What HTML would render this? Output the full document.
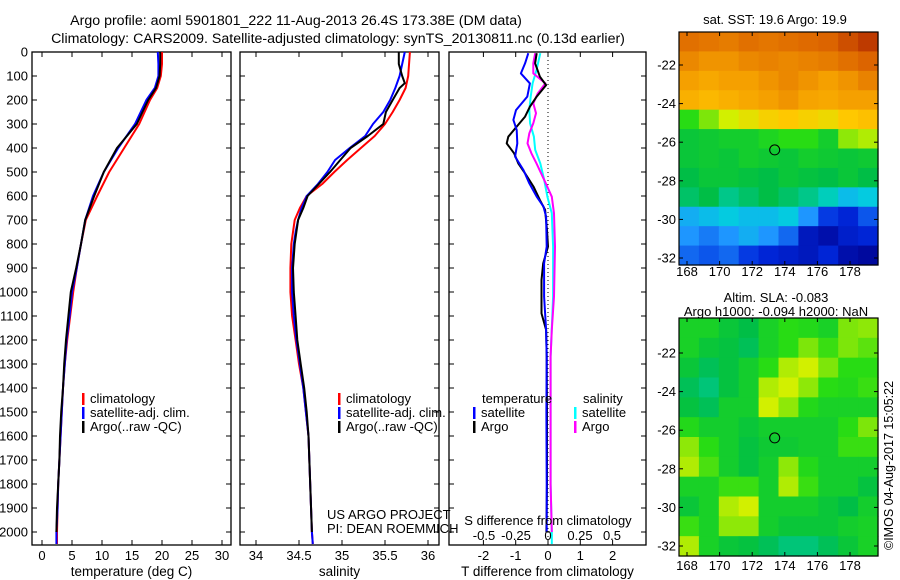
<!DOCTYPE html>
<html><head><meta charset="utf-8"><style>
html,body{margin:0;padding:0;background:#fff;}
svg{display:block;font-family:"Liberation Sans",sans-serif;}
</style></head><body>
<svg id="fig" width="900" height="580" xmlns="http://www.w3.org/2000/svg">
<g font-size="14.2" fill="#000">
<text x="296" y="25" text-anchor="middle">Argo profile: aoml 5901801_222 11-Aug-2013 26.4S 173.38E (DM data)</text>
<text x="338" y="43" text-anchor="middle">Climatology: CARS2009. Satellite-adjusted climatology: synTS_20130811.nc (0.13d earlier)</text>
</g>
<g id="panels"></g>
<g id="maps"></g>
<text transform="translate(893,550) rotate(-90)" font-size="12.5">©IMOS 04-Aug-2017 15:05:22</text>
</svg>
<script>
// ---------- DATA ----------
const depthT = [0,50,100,150,200,300,400,500,600,700,800,900,1000,1100,1200,1300,1400,1500,1600,1700,1800,1900,2000,2050];
const tempClim = [20.0,20.0,19.8,19.2,18.0,16.2,13.7,11.2,9.2,7.3,6.5,5.8,5.2,4.7,4.2,3.8,3.5,3.3,3.1,2.9,2.7,2.6,2.5,2.5];
const tempSat  = [19.3,19.4,19.4,18.8,17.4,15.5,12.7,10.3,8.5,7.2,6.5,5.8,5.0,4.6,4.1,3.8,3.5,3.3,3.1,2.9,2.7,2.6,2.4,2.4];
const depthArgoT = [0,50,100,150,200,300,400,500,600,700,800,900,1000,1100,1200,1300,1400,1500,1600,1700,1800,1900,2000];
const tempArgo = [19.7,19.7,19.6,19.0,17.7,15.8,12.5,10.3,8.7,7.2,6.5,5.7,4.8,4.4,4.0,3.7,3.5,3.2,3.0,2.9,2.7,2.5,2.4];

const depthS = [0,100,150,200,250,300,350,400,450,500,550,600,650,700,750,800,900,1000,1100,1200,1300,1400,1500,1600,1800,2000,2050];
const salClim = [35.79,35.77,35.74,35.67,35.59,35.50,35.38,35.22,35.06,34.91,34.77,34.59,34.51,34.45,34.43,34.41,34.40,34.40,34.42,34.46,34.50,34.55,34.58,34.61,34.63,34.65,34.66];
const salSat  = [35.73,35.67,35.62,35.56,35.48,35.36,35.27,35.09,34.92,34.83,34.72,34.59,34.53,34.49,34.46,34.44,34.42,34.42,34.44,34.47,34.51,34.55,34.58,34.61,34.63,34.65,34.66];
const depthArgoS = [0,50,100,130,150,200,250,300,350,400,450,500,550,600,650,700,800,900,1000,1100,1200,1300,1400,1500,1600,1800,2000];
const salArgo = [35.66,35.66,35.70,35.73,35.67,35.59,35.51,35.48,35.30,35.10,34.98,34.86,34.73,34.60,34.55,34.49,34.45,34.43,34.44,34.46,34.48,34.52,34.56,34.59,34.61,34.63,34.65];

const depthDT = [5,47,89,131,186,242,283,325,381,436,492,547,603,644,686,811,881,1019,1158,1269,1500,1800,2000];
const dTSat = [-0.61,-0.71,-0.84,-0.56,-0.64,-0.99,-1.07,-0.97,-0.95,-1.02,-0.76,-0.58,-0.35,-0.14,-0.06,-0.04,-0.12,-0.12,-0.06,-0.04,-0.05,-0.04,-0.04];
const depthDTA = [5,47,103,138,186,228,269,311,353,381,422,464,506,561,617,658,742,811,881,950,1089,1158,1269,1500,1800,2000];
const dTArgo = [-0.35,-0.40,-0.25,-0.06,-0.35,-0.56,-0.71,-0.97,-1.23,-1.28,-1.05,-0.92,-0.71,-0.45,-0.25,-0.09,-0.03,0.0,-0.15,-0.20,-0.20,-0.06,-0.04,-0.03,-0.03,-0.05];
const depthDS = [5,75,131,186,242,297,353,408,464,533,603,672,811,1019,1269,1500,1800,2000,2050];
const dSSat = [-0.06,-0.09,-0.12,-0.135,-0.146,-0.14,-0.11,-0.10,-0.06,-0.03,-0.005,0.03,0.04,0.04,0.02,0.02,0.02,0.03,0.03];
const depthDSA = [5,47,89,131,172,214,255,297,339,381,422,464,533,603,672,811,1019,1158,1269,1500,1800,2000];
const dSArgo = [-0.10,-0.115,-0.115,-0.02,-0.08,-0.115,-0.094,-0.115,-0.146,-0.16,-0.13,-0.09,-0.03,0.03,0.047,0.055,0.047,0.03,0.02,0.02,0.02,0.03];

const depthTicks = [0,100,200,300,400,500,600,700,800,900,1000,1100,1200,1300,1400,1500,1600,1700,1800,1900,2000];
const tempTicks = [0,5,10,15,20,25,30];
const salTicks = [34,34.5,35,35.5,36];
const salTickLabels = ["34","34.5","35","35.5","36"];
const dTTicks = [-2,-1,0,1,2];
const dSTicks = [-0.5,-0.25,0,0.25,0.5];
const dSTickLabels = ["-0.5","-0.25","0","0.25","0.5"];

const latTicks = [-22,-24,-26,-28,-30,-32];
const lonTicks = [168,170,172,174,176,178];
const argoLon = 173.38, argoLat = -26.4;
// normalized SST field (0 cold .. 1 warm), rows north->south
const sstGrid = [
[.88,.87,.86,.88,.87,.88,.89,.9,.93,.96],
[.84,.82,.82,.84,.85,.84,.85,.86,.88,.9],
[.8,.78,.8,.8,.82,.84,.82,.8,.82,.85],
[.76,.74,.76,.78,.8,.82,.79,.78,.8,.8],
[.5,.55,.6,.64,.68,.7,.68,.66,.7,.72],
[.44,.45,.46,.46,.48,.5,.5,.46,.56,.58],
[.44,.45,.44,.46,.45,.44,.46,.45,.44,.45],
[.42,.44,.44,.43,.42,.44,.43,.42,.44,.42],
[.4,.42,.38,.4,.42,.4,.38,.35,.3,.32],
[.28,.3,.32,.3,.3,.32,.25,.15,.12,.18],
[.25,.22,.25,.28,.25,.2,.08,.05,.1,.12],
[.2,.18,.2,.15,.12,.1,.08,.12,.05,.03]];
const slaGrid = [
[.47,.47,.44,.42,.47,.5,.49,.47,.55,.56],
[.47,.44,.43,.41,.47,.5,.55,.51,.55,.53],
[.44,.41,.43,.46,.5,.58,.6,.55,.5,.5],
[.41,.39,.43,.46,.58,.6,.56,.5,.49,.51],
[.43,.41,.46,.46,.6,.56,.49,.47,.47,.47],
[.49,.46,.46,.44,.46,.46,.46,.46,.5,.55],
[.56,.5,.46,.43,.45,.45,.46,.46,.51,.51],
[.58,.52,.46,.43,.46,.56,.49,.46,.46,.46],
[.47,.47,.51,.51,.46,.58,.51,.46,.46,.43],
[.44,.47,.58,.6,.46,.46,.46,.44,.42,.46],
[.51,.47,.56,.56,.46,.44,.44,.44,.46,.47],
[.58,.47,.44,.43,.41,.39,.39,.41,.44,.47]];

// ---------- HELPERS ----------
const NS="http://www.w3.org/2000/svg";
function mk(tag,attrs,parent){const e=document.createElementNS(NS,tag);for(const k in attrs)e.setAttribute(k,attrs[k]);parent.appendChild(e);return e;}
const panelsG=document.getElementById('panels');
const Y0=52, YB=545, PXM=0.24, FS=13;
const yD = d => Y0 + d*PXM;

function drawPanel(name,x0,x1,xScale,ticks,labels,xlabel){
  const g=mk('g',{},panelsG);
  
  
  const r=mk('rect',{x:x0,y:Y0,width:x1-x0,height:YB-Y0,fill:'none',stroke:'#000','stroke-width':1.3},g);
  
  
  depthTicks.forEach(d=>{
    mk('line',{x1:x0,x2:x0+5,y1:yD(d),y2:yD(d),stroke:'#000'},g);
    mk('line',{x1:x1,x2:x1-5,y1:yD(d),y2:yD(d),stroke:'#000'},g);
  });
  if(ticks){
    ticks.forEach((v,i)=>{
      const x=xScale(v);
      mk('line',{x1:x,x2:x,y1:Y0,y2:Y0+5,stroke:'#000'},g);
      mk('line',{x1:x,x2:x,y1:YB,y2:YB-5,stroke:'#000'},g);
      const t=mk('text',{x:x,y:560,'text-anchor':'middle','font-size':FS},g);
      t.textContent=labels[i];
      
      
    });
  }
  const xl=mk('text',{x:(x0+x1)/2,y:576,'text-anchor':'middle','font-size':13.5},g);
  xl.textContent=xlabel;
  
  
  return g;
}
function line(g,xs,ds,xScale,color,name){
  const pts=xs.map((v,i)=>xScale(v).toFixed(1)+','+yD(ds[i]).toFixed(1)).join(' ');
  const p=mk('polyline',{points:pts,fill:'none',stroke:color,'stroke-width':2,'stroke-linejoin':'round'},g);
  
  
}
function legendEntry(g,x,y,color,label,name){
  mk('rect',{x:x,y:y-10,width:2.5,height:12,fill:color},g);
  const t=mk('text',{x:x+8,y:y,'font-size':FS},g);
  t.textContent=label;
  
  
}

// depth axis labels
depthTicks.forEach(d=>{
  const t=mk('text',{x:28,y:yD(d)+4.5,'text-anchor':'end','font-size':FS},panelsG);
  t.textContent=d;
  
  
});

// Panel 1 temperature
const xT = v => 42 + v*6;
const g1=drawPanel('temperature-panel',32,231,xT,tempTicks,tempTicks.map(String),'temperature (deg C)');
line(g1,tempClim,depthT,xT,'#f00','temp-climatology-line');
line(g1,tempSat,depthT,xT,'#00f','temp-satellite-line');
line(g1,tempArgo,depthArgoT,xT,'#000','temp-argo-line');
legendEntry(g1,82,403,'#f00','climatology','legend-climatology');
legendEntry(g1,82,417,'#00f','satellite-adj. clim.','legend-satellite');
legendEntry(g1,82,431,'#000','Argo(..raw -QC)','legend-argo');

// Panel 2 salinity
const xS = v => 256 + (v-34)*86;
const g2=drawPanel('salinity-panel',240,439,xS,salTicks,salTickLabels,'salinity');
line(g2,salClim,depthS,xS,'#f00','sal-climatology-line');
line(g2,salSat,depthS,xS,'#00f','sal-satellite-line');
line(g2,salArgo,depthArgoS,xS,'#000','sal-argo-line');
legendEntry(g2,338,403,'#f00','climatology','legend-climatology');
legendEntry(g2,338,417,'#00f','satellite-adj. clim.','legend-satellite');
legendEntry(g2,338,431,'#000','Argo(..raw -QC)','legend-argo');
[['US ARGO PROJECT',519],['PI: DEAN ROEMMICH',533]].forEach(([s,y])=>{
  const t=mk('text',{x:327,y:y,'font-size':FS},g2);t.textContent=s;
  
  
});

// Panel 3 differences
const xDT = v => 548 + v*32.3;
const xDS = v => 548 + v*128;
const g3=drawPanel('difference-panel',449,646,xDT,dTTicks,dTTicks.map(String),'T difference from climatology');
mk('line',{x1:548,x2:548,y1:Y0,y2:YB,stroke:'#000','stroke-dasharray':'1,3'},g3);
line(g3,dSSat,depthDS,xDS,'#0ff','s-diff-satellite-line');
line(g3,dSArgo,depthDSA,xDS,'#f0f','s-diff-argo-line');
line(g3,dTArgo,depthDTA,xDT,'#000','t-diff-argo-line');
line(g3,dTSat,depthDT,xDT,'#00f','t-diff-satellite-line');
dSTicks.forEach((v,i)=>{
  const t=mk('text',{x:xDS(v),y:540,'text-anchor':'middle','font-size':FS},g3);
  t.textContent=dSTickLabels[i];
  
  
});
{const t=mk('text',{x:548,y:525,'text-anchor':'middle','font-size':FS},g3);t.textContent='S difference from climatology';

}
{const t=mk('text',{x:482,y:403,'font-size':FS},g3);t.textContent='temperature';

}
{const t=mk('text',{x:583,y:403,'font-size':FS},g3);t.textContent='salinity';

}
legendEntry(g3,473,417,'#00f','satellite','legend-t-satellite');
legendEntry(g3,473,431,'#000','Argo','legend-t-argo');
legendEntry(g3,574,417,'#0ff','satellite','legend-s-satellite');
legendEntry(g3,574,431,'#f0f','Argo','legend-s-argo');

// ---------- MAPS ----------
const mapsG=document.getElementById('maps');
const stops=[[0,[0,0,140]],[0.13,[0,40,220]],[0.25,[30,150,255]],[0.33,[0,210,220]],[0.42,[0,190,70]],[0.5,[40,220,20]],[0.6,[210,240,0]],[0.7,[255,200,0]],[0.8,[245,160,0]],[0.9,[220,100,0]],[1,[170,30,0]]];
function cmap(v){
  for(let i=1;i<stops.length;i++){if(v<=stops[i][0]){const a=stops[i-1],b=stops[i];const f=(v-a[0])/(b[0]-a[0]);
    return 'rgb('+a[1].map((c,k)=>Math.round(c+(b[1][k]-c)*f)).join(',')+')';}}
  return 'rgb(170,30,0)';
}
function drawMap(name,grid,top,bottom,lat22Y,titleLines,lonLabelY){
  const L=679,R=878;
  const g=mk('g',{},mapsG);
  
  
  const rows=grid.length, cols=grid[0].length;
  const cw=(R-L)/cols, ch=(bottom-top)/rows;
  grid.forEach((row,r)=>row.forEach((v,c)=>{
    const cell=mk('rect',{x:L+c*cw,y:top+r*ch,width:cw+0.6,height:ch+0.6,fill:cmap(v)},g);
    
    
  }));
  mk('rect',{x:L,y:top,width:R-L,height:bottom-top,fill:'none',stroke:'#000','stroke-width':1.2},g);
  const lonX = lon => 687 + (lon-168)*16.3;
  const latY = lat => lat22Y + (-22-lat)*19.3;
  latTicks.forEach(lat=>{
    const y=latY(lat);
    mk('line',{x1:L,x2:L+4,y1:y,y2:y,stroke:'#000'},g);
    mk('line',{x1:R,x2:R-4,y1:y,y2:y,stroke:'#000'},g);
    const t=mk('text',{x:676,y:y+4.5,'text-anchor':'end','font-size':FS},g);t.textContent=lat;
    
    
  });
  lonTicks.forEach(lon=>{
    const x=lonX(lon);
    mk('line',{x1:x,x2:x,y1:top,y2:top+4,stroke:'#000'},g);
    mk('line',{x1:x,x2:x,y1:bottom,y2:bottom-4,stroke:'#000'},g);
    const t=mk('text',{x:x,y:lonLabelY,'text-anchor':'middle','font-size':FS},g);t.textContent=lon;
    
    
  });
  const c=mk('circle',{cx:lonX(argoLon),cy:latY(argoLat),r:5,fill:'none',stroke:'#000','stroke-width':1},g);
  
  
  titleLines.forEach(([s,x,y])=>{
    const t=mk('text',{x:x,y:y,'text-anchor':'middle','font-size':FS},g);t.textContent=s;
    
    
  });
}
drawMap('sst-map',sstGrid,32,265,65,[['sat. SST: 19.6 Argo: 19.9',775,24]],276);
drawMap('sla-map',slaGrid,318,556,353,[['Altim. SLA: -0.083',776,302],['Argo h1000: -0.094 h2000: NaN',776,316]],570);
</script>
</body></html>
